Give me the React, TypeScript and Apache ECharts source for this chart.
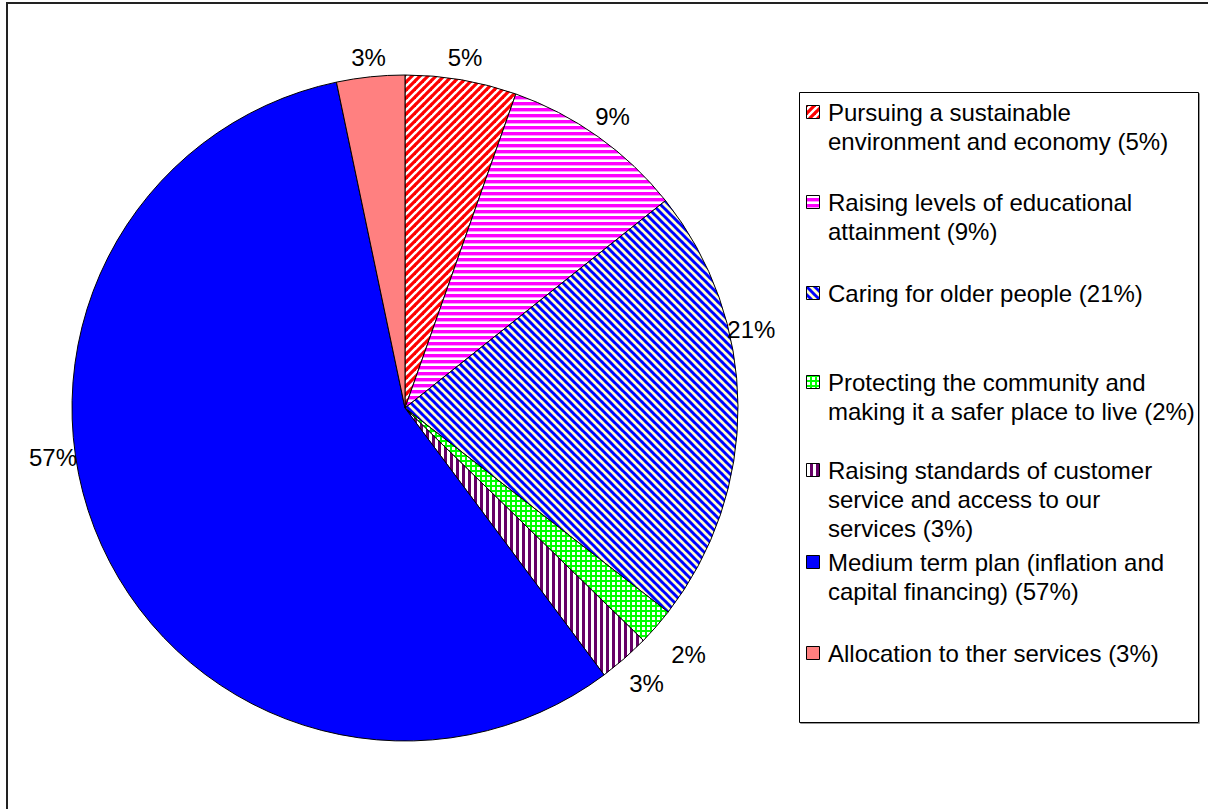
import React, { useEffect, useRef } from 'react';
import * as echarts from 'echarts';

// ---- data ----
const categories = [
  'Pursuing a sustainable\nenvironment and economy',
  'Raising levels of educational\nattainment',
  'Caring for older people',
  'Protecting the community and\nmaking it a safer place to live',
  'Raising standards of customer\nservice and access to our\nservices',
  'Medium term plan (inflation and\ncapital financing)',
  'Allocation to ther services',
];
const values = [5.4, 8.9, 21.2, 1.8, 2.5, 56.9, 3.3];

// ---- layout / style ----
const FONT = '"Liberation Sans", Arial, sans-serif';
const FS = 24;
const CX = 405;
const CY = 408;
const R = 333;
const labelGap = [8, 5, -4, 22, 13, -3, 6];
const labelAngleOverride: Record<number, number> = { 2: 77.3, 5: 262 };
const legendRowY = [112, 202, 293, 382, 470, 562, 653];

function makeCanvas(w: number, h: number, draw: (ctx: CanvasRenderingContext2D) => void) {
  const c = document.createElement('canvas');
  c.width = w;
  c.height = h;
  const ctx = c.getContext('2d') as CanvasRenderingContext2D;
  draw(ctx);
  return c;
}

function diag(fg: string, bg: string, p: number, lw: number, up: boolean) {
  return makeCanvas(p, p, (ctx) => {
    ctx.fillStyle = bg;
    ctx.fillRect(0, 0, p, p);
    ctx.strokeStyle = fg;
    ctx.lineWidth = lw;
    for (let k = -1; k <= 1; k++) {
      ctx.beginPath();
      if (up) {
        ctx.moveTo(k * p - 1, p + 1);
        ctx.lineTo(k * p + p + 1, -1);
      } else {
        ctx.moveTo(k * p - 1, -1);
        ctx.lineTo(k * p + p + 1, p + 1);
      }
      ctx.stroke();
    }
  });
}

function makeFills(): any[] {
  const red = diag('#ff0000', '#ffffff', 8, 3.2, true);
  const magenta = makeCanvas(6, 6, (ctx) => {
    ctx.fillStyle = '#ffffff';
    ctx.fillRect(0, 0, 6, 6);
    ctx.fillStyle = '#ff00ff';
    ctx.fillRect(0, 0, 6, 3);
    ctx.fillStyle = '#ff99ff';
    ctx.fillRect(0, 3, 6, 1);
  });
  const blueYellow = diag('#0000ff', '#ffffcc', 8, 3, false);
  const green = makeCanvas(5, 5, (ctx) => {
    ctx.fillStyle = '#ffffff';
    ctx.fillRect(0, 0, 5, 5);
    ctx.fillStyle = '#00ff00';
    ctx.fillRect(0, 0, 5, 2);
    ctx.fillRect(0, 0, 2, 5);
  });
  const purple = makeCanvas(6, 6, (ctx) => {
    ctx.fillStyle = '#ffffff';
    ctx.fillRect(0, 0, 6, 6);
    ctx.fillStyle = '#660066';
    ctx.fillRect(0, 0, 3, 6);
  });
  const pat = (c: HTMLCanvasElement) => ({ image: c, repeat: 'repeat' });
  return [pat(red), pat(magenta), pat(blueYellow), pat(green), pat(purple), '#0000ff', '#ff8080'];
}

export default function App() {
  const ref = useRef<HTMLDivElement>(null);

  useEffect(() => {
    if (!ref.current) return;
    const chart = echarts.init(ref.current, null, { renderer: 'svg' });
    const fills = makeFills();
    const total = values.reduce((a, b) => a + b, 0);
    const pct = values.map((v) => Math.round((v / total) * 100));
    const cum: number[] = [];
    values.reduce((acc, v) => {
      cum.push(acc + v / 2);
      return acc + v;
    }, 0);
    const midAngle = cum.map((c) => (c / total) * 360);

    const legendChildren: any[] = [];
    categories.forEach((name, i) => {
      const y = legendRowY[i];
      legendChildren.push({
        type: 'rect',
        shape: { x: 806.5, y: y - 6.5, width: 13, height: 13 },
        style: { fill: fills[i], stroke: '#000', lineWidth: 1 },
      });
      legendChildren.push({
        type: 'text',
        x: 828,
        y: y - 14.5,
        style: {
          text: `${name} (${pct[i]}%)`,
          fontSize: FS,
          fontFamily: FONT,
          fill: '#000',
          lineHeight: 29,
          verticalAlign: 'top',
          align: 'left',
        },
      });
    });

    const option: any = {
      animation: false,
      backgroundColor: '#ffffff',
      graphic: [
        {
          type: 'rect',
          shape: { x: 7, y: 3, width: 1240, height: 840 },
          style: { fill: 'none', stroke: '#222', lineWidth: 2 },
          silent: true,
        },
        {
          type: 'rect',
          shape: { x: 800.5, y: 93.5, width: 399, height: 630 },
          style: { fill: 'none', stroke: '#999', lineWidth: 1 },
          silent: true,
        },
        {
          type: 'rect',
          shape: { x: 799.5, y: 92.5, width: 399, height: 630 },
          style: { fill: '#fff', stroke: '#000', lineWidth: 1 },
          silent: true,
        },
        { type: 'group', children: legendChildren, silent: true },
      ],
      series: [
        {
          type: 'pie',
          center: [CX, CY],
          radius: R,
          startAngle: 90,
          clockwise: true,
          avoidLabelOverlap: false,
          silent: true,
          itemStyle: { borderColor: '#000', borderWidth: 1 },
          label: {
            show: true,
            position: 'outside',
            formatter: (p: any) => `${pct[p.dataIndex]}%`,
            fontSize: FS,
            fontFamily: FONT,
            color: '#000',
          },
          labelLine: { show: false, length: 0, length2: 0 },
          labelLayout: (p: any) => {
            const i = p.dataIndex;
            const deg = labelAngleOverride[i] ?? midAngle[i];
            const t = (deg * Math.PI) / 180;
            const s = Math.sin(t);
            const c = Math.cos(t);
            const w = p.labelRect.width;
            const h = p.labelRect.height;
            const d = R + (h / 2) * Math.abs(c) + (w / 2) * Math.abs(s) + labelGap[i];
            return {
              x: CX + d * s,
              y: CY - d * c,
              align: 'center',
              verticalAlign: 'middle',
            };
          },
          data: categories.map((name, i) => ({
            name,
            value: values[i],
            itemStyle: { color: fills[i] },
          })),
        },
      ],
    };
    chart.setOption(option);
    return () => chart.dispose();
  }, []);

  return (
    <div
      ref={ref}
      style={{ position: 'absolute', left: 0, top: 0, width: 1208, height: 809 }}
    />
  );
}
